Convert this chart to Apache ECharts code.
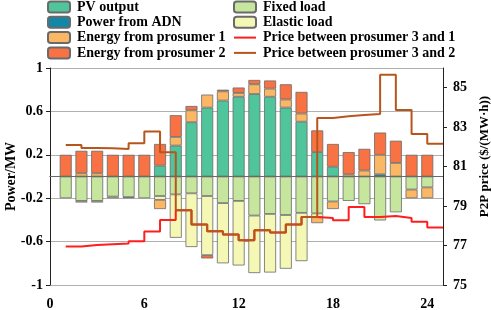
<!DOCTYPE html>
<html>
<head>
<meta charset="utf-8">
<script src="https://cdn.jsdelivr.net/npm/echarts@6/dist/echarts.min.js"></script>
<style>html,body{margin:0;padding:0;background:#fff;}#c{width:491px;height:310px;}</style>
</head>
<body>
<div id="c"></div>
<script>
const hours = [1,2,3,4,5,6,7,8,9,10,11,12,13,14,15,16,17,18,19,20,21,22,23,24];
const xTicks = [0,6,12,18,24];
// supply side (MW, positive)
const pvOutput   = [0,0,0,0,0,0,0.10,0.285,0.50,0.635,0.70,0.735,0.76,0.735,0.635,0.505,0.225,0.09,0,0,0,0,0,0];
const powerADN   = [0,0,0,0,0,0,0,0,0,0,0,0,0,0,0,0,0,0,0,0,0.02,0,0,0];
const energyP1   = [0,0.03,0.03,0,0,0,0,0.08,0.11,0.12,0.085,0.035,0.09,0.075,0.075,0.075,0,0,0.02,0.055,0.18,0.125,0,0];
const energyP2   = [0.2,0.207,0.207,0.2,0.2,0.2,0.2,0.2,0.04,0,0.015,0.05,0.04,0.075,0.14,0.2,0.2,0.21,0.205,0.2,0.205,0.205,0.2,0.2];
// demand side (MW, negative)
const fixedLoad  = [-0.2,-0.225,-0.225,-0.185,-0.19,-0.2,-0.18,-0.165,-0.155,-0.18,-0.245,-0.225,-0.36,-0.345,-0.355,-0.335,-0.34,-0.23,-0.225,-0.255,-0.405,-0.33,-0.12,-0.1];
const elasticLoad= [0,-0.015,-0.015,-0.015,0,0,-0.035,-0.40,-0.495,-0.545,-0.555,-0.595,-0.53,-0.54,-0.495,-0.445,-0.035,0,0,0,0,0,0,0];
const energyP1Out= [0,0,0,0,0,0,-0.085,0,0,0,0,0,0,0,0,0,-0.055,-0.07,0,0,0,0,-0.08,-0.1];
const energyP2Out= [0,0,0,0,-0.01,0,0,0,0,-0.03,0,0,0,0,0,0,0,0,0,0,0,0,0,0];
// P2P prices ($/(MW·h))
const price31 = [76.95,77.03,77.07,77.1,77.22,77.71,78.3,78.79,78.07,77.73,77.56,77.27,77.78,77.66,78.07,78.45,78.4,78.28,78.95,78.45,78.5,78.4,78.2,77.92];
const price32 = [82.1,81.95,81.93,81.9,82.19,82.78,81.73,78.79,78.07,77.73,77.56,77.27,77.78,77.66,78.07,78.45,83.47,83.55,83.62,83.67,85.66,83.87,82.66,82.16];

// hour axis slots 0..25 (bars sit on 1..24)
const slots = [];
for (let i = 0; i <= 25; i++) slots.push(String(i));
const onSlots = (arr, mapFn) => slots.map(s => {
  const k = hours.indexOf(Number(s));
  return k < 0 ? '-' : mapFn(arr[k]);
});

const FONT = 'Liberation Serif';
const txt = {fontFamily: FONT, fontWeight: 'bold', fontSize: 14, color: '#000'};
const barItem = v => (v === 0 ? {value: 0, itemStyle: {borderWidth: 0}} : {value: v});
function bar(name, arr, color, extra) {
  return Object.assign({
    name, type: 'bar', stack: 'p', barWidth: 12, data: onSlots(arr, barItem),
    itemStyle: {color, borderColor: '#6a6a6a', borderWidth: 0.8}
  }, extra || {});
}
const isTick = (idx, val) => xTicks.indexOf(Number(val)) >= 0;
const lineLegend = c => ({itemStyle: {opacity: 0}, lineStyle: {color: c, width: 2}});

const chart = echarts.init(document.getElementById('c'), null, {renderer: 'canvas'});
chart.setOption({
  animation: false,
  backgroundColor: '#fff',
  grid: {left: 50, right: 48, top: 68, bottom: 25, containLabel: false, outerBoundsMode: 'none'},
  legend: [
    {left: 47, top: 0, padding: 0, orient: 'vertical', itemWidth: 22, itemHeight: 11, itemGap: 1.3,
     textStyle: Object.assign({}, txt, {padding: [0,0,0,2]}),
     data: ['PV output','Power from ADN','Energy from prosumer 1','Energy from prosumer 2']},
    {left: 233, top: 0, padding: 0, orient: 'vertical', itemWidth: 22, itemHeight: 11, itemGap: 1.3,
     textStyle: Object.assign({}, txt, {padding: [0,0,0,2]}),
     data: ['Fixed load','Elastic load',
       Object.assign({name: 'Price between prosumer 3 and 1'}, lineLegend('#ff1e1e')),
       Object.assign({name: 'Price between prosumer 3 and 2'}, lineLegend('#b6561c'))]}
  ],
  xAxis: {
    type: 'category', data: slots, boundaryGap: false,
    axisLine: {lineStyle: {color: '#222', width: 1}},
    axisTick: {inside: true, length: 5, interval: isTick, lineStyle: {color: '#222'}},
    axisLabel: Object.assign({}, txt, {margin: 12, interval: isTick}),
    splitLine: {show: false}
  },
  yAxis: [
    {type: 'value', min: -1, max: 1, interval: 0.4, position: 'left',
     name: 'Power/MW', nameLocation: 'middle', nameGap: 32, nameRotate: 90, nameMoveOverlap: false,
     nameTextStyle: txt,
     axisLine: {show: true, lineStyle: {color: '#222'}},
     axisTick: {show: true, length: 4, lineStyle: {color: '#222'}},
     axisLabel: Object.assign({}, txt, {margin: 7, formatter: v => String(Math.round(v*10)/10)}),
     splitLine: {show: true, lineStyle: {color: '#b0b0b0', width: 1}}},
    {type: 'value', min: 75, max: 86, interval: 2, position: 'right',
     name: 'P2P price ($/(MW·h))', nameLocation: 'middle', nameGap: 27, nameRotate: 90,
     nameTextStyle: Object.assign({}, txt, {fontSize: 13, padding: [0,0,0,40]}),
     axisLine: {show: true, lineStyle: {color: '#222'}},
     axisTick: {show: true, length: 4, lineStyle: {color: '#222'}},
     axisLabel: Object.assign({}, txt, {margin: 10, showMaxLabel: false}),
     splitLine: {show: false}}
  ],
  series: [
    bar('PV output', pvOutput, '#50c59c', {
      markLine: {silent: true, symbol: 'none', label: {show: false},
        lineStyle: {color: '#6a6a6a', width: 1, type: 'solid'}, data: [{yAxis: 0}]}}),
    bar('Power from ADN', powerADN, '#1287a8'),
    bar('Energy from prosumer 1', energyP1, '#fcb765'),
    bar('Energy from prosumer 2', energyP2, '#f97243'),
    bar('Fixed load', fixedLoad, '#c6e69d'),
    bar('Elastic load', elasticLoad, '#f5f8b5'),
    bar('Energy from prosumer 1', energyP1Out, '#fcb765'),
    bar('Energy from prosumer 2', energyP2Out, '#f97243'),
    {name: 'Price between prosumer 3 and 1', type: 'line', yAxisIndex: 1, step: 'end',
     symbol: 'none', data: onSlots(price31, v => v),
     lineStyle: {color: '#ff1e1e', width: 2}, itemStyle: {color: '#ff1e1e'}, z: 5},
    {name: 'Price between prosumer 3 and 2', type: 'line', yAxisIndex: 1, step: 'end',
     symbol: 'none', data: onSlots(price32, v => v),
     lineStyle: {color: '#b6561c', width: 2}, itemStyle: {color: '#b6561c'}, z: 6}
  ]
});
</script>
</body>
</html>
